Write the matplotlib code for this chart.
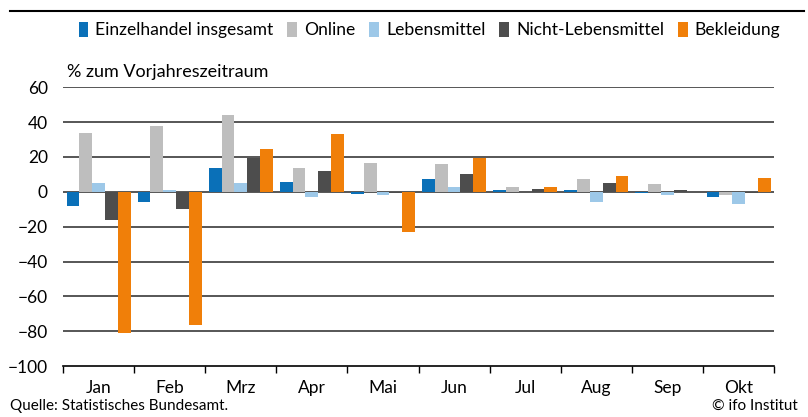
import numpy as np
import matplotlib.pyplot as plt

plt.rcParams['font.family'] = ['Lato', 'DejaVu Sans']

# data (% zum Vorjahreszeitraum)
months = ["Jan", "Feb", "Mrz", "Apr", "Mai", "Jun", "Jul", "Aug", "Sep", "Okt"]
einzelhandel = [-8.2, -5.9, 13.6, 5.6, -1.5, 7.5, 1.1, 1.1, -0.5, -3.2]
online = [33.6, 37.7, 44.0, 13.6, 16.4, 15.9, 2.7, 7.5, 4.4, -2.1]
lebensmittel = [5.3, 0.8, 4.8, -3.2, -2.1, 2.5, 0.1, -6.1, -2.1, -7.3]
nicht_lebensmittel = [-16.3, -9.9, 19.1, 11.9, -0.8, 10.1, 1.7, 5.0, 1.1, -0.9]
bekleidung = [-81.2, -76.3, 24.5, 33.3, -23.3, 19.3, 2.7, 9.0, -0.3, 7.9]

series = [
    ("Einzelhandel insgesamt", einzelhandel, "#0A70B8"),
    ("Online", online, "#BEBEBE"),
    ("Lebensmittel", lebensmittel, "#9DC8E8"),
    ("Nicht-Lebensmittel", nicht_lebensmittel, "#4D4D4D"),
    ("Bekleidung", bekleidung, "#F07F09"),
]

fig = plt.figure(figsize=(8.08, 4.17), dpi=100)
ax = fig.add_axes([0.078, 0.122, 0.880, 0.669])

x = np.arange(len(months))
w = 0.18
for i, (name, vals, col) in enumerate(series):
    ax.bar(x + (i - 2) * w, vals, width=w, color=col, label=name, zorder=3)

ax.set_ylim(-100, 60)
ax.set_xlim(-0.5, len(months) - 0.5)
ax.set_yticks(range(-100, 61, 20))
ax.set_yticklabels([str(v).replace('-', '\u2212') for v in range(-100, 61, 20)], fontsize=12.5)
for v in range(-80, 61, 20):
    ax.axhline(v, color='#3a3a3a', lw=1.2, zorder=1)

ax.set_xticks(x)
ax.set_xticklabels(months, fontsize=12.5)
ax.set_xticks(np.arange(-0.5, len(months)), minor=True)
ax.tick_params(axis='x', which='major', length=0, pad=10)
ax.tick_params(axis='x', which='minor', length=5, width=1, color='black')
ax.tick_params(axis='y', length=0, pad=11)
for s in ['top', 'right', 'left']:
    ax.spines[s].set_visible(False)
ax.spines['bottom'].set_color('black')
ax.spines['bottom'].set_linewidth(1.2)

ax.text(0.005, 1.025, "% zum Vorjahreszeitraum", transform=ax.transAxes, fontsize=13,
        ha='left', va='bottom')

fig.legend(loc='upper right', bbox_to_anchor=(0.985, 0.985), ncol=5, frameon=False,
           fontsize=12.6, handlelength=0.55, handleheight=0.9, handletextpad=0.4,
           columnspacing=0.8)

# top rule
fig.add_artist(plt.Line2D([0.012, 0.995], [0.974, 0.974], color='black', lw=1.5))

fig.text(0.012, 0.01, "Quelle: Statistisches Bundesamt.", fontsize=11, ha='left', va='bottom')
fig.text(0.987, 0.01, "\u00a9 ifo Institut", fontsize=11, ha='right', va='bottom')

fig.savefig("out.png", dpi=100)
